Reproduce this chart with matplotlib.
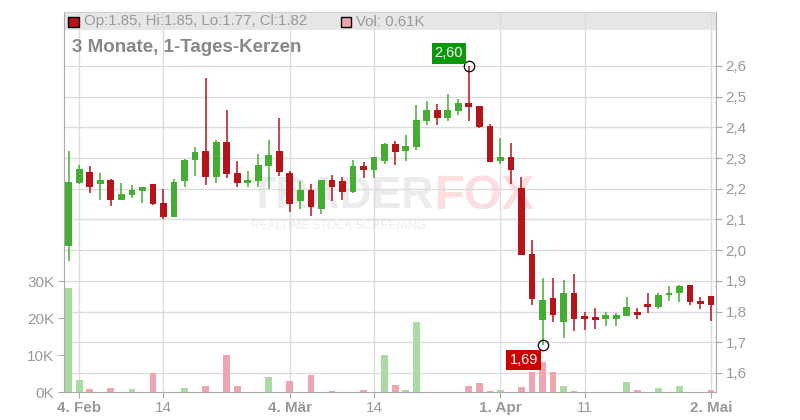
import matplotlib
matplotlib.use('Agg')
import matplotlib.pyplot as plt
from matplotlib.patches import Rectangle
import numpy as np
import pandas as pd

plt.rcParams['font.family'] = ['Liberation Sans', 'DejaVu Sans']

# trading days (Xetra, Feb 3 - May 2 2025)
dates = pd.bdate_range('2025-02-03', '2025-05-02').drop(
    pd.to_datetime(['2025-04-18', '2025-04-21', '2025-05-01']))

opens = [2.015, 2.219, 2.255, 2.217, 2.229, 2.162, 2.181, 2.194, 2.216, 2.154,
         2.109, 2.224, 2.293, 2.324, 2.239, 2.352, 2.251, 2.220, 2.226, 2.275,
         2.324, 2.251, 2.161, 2.196, 2.135, 2.228, 2.225, 2.190, 2.274, 2.262,
         2.291, 2.346, 2.324, 2.337, 2.421, 2.457, 2.432, 2.454, 2.479, 2.470,
         2.404, 2.291, 2.303, 2.202, 1.988, 1.773, 1.845, 1.766, 1.861, 1.785,
         1.782, 1.775, 1.775, 1.785, 1.798, 1.824, 1.814, 1.853, 1.859, 1.885,
         1.833, 1.850]
highs = [2.323, 2.278, 2.275, 2.252, 2.232, 2.219, 2.213, 2.206, 2.216, 2.200,
         2.232, 2.297, 2.337, 2.561, 2.359, 2.457, 2.290, 2.258, 2.313, 2.359,
         2.430, 2.258, 2.226, 2.215, 2.228, 2.245, 2.238, 2.293, 2.287, 2.303,
         2.349, 2.355, 2.375, 2.473, 2.486, 2.476, 2.509, 2.492, 2.600, 2.470,
         2.411, 2.365, 2.349, 2.238, 2.034, 1.910, 1.910, 1.903, 1.923, 1.800,
         1.811, 1.798, 1.795, 1.849, 1.811, 1.859, 1.862, 1.882, 1.888, 1.888,
         1.849, 1.850]
lows = [1.966, 2.215, 2.185, 2.162, 2.145, 2.162, 2.171, 2.155, 2.148, 2.103,
        2.107, 2.207, 2.242, 2.213, 2.220, 2.236, 2.207, 2.207, 2.207, 2.200,
        2.242, 2.125, 2.135, 2.112, 2.118, 2.161, 2.164, 2.187, 2.236, 2.236,
        2.282, 2.278, 2.291, 2.327, 2.408, 2.408, 2.421, 2.441, 2.422, 2.399,
        2.288, 2.282, 2.216, 1.985, 1.822, 1.690, 1.766, 1.714, 1.737, 1.741,
        1.744, 1.754, 1.754, 1.785, 1.775, 1.795, 1.808, 1.833, 1.830, 1.820,
        1.808, 1.770]
closes = [2.222, 2.265, 2.207, 2.229, 2.162, 2.183, 2.197, 2.206, 2.152, 2.109,
          2.223, 2.295, 2.321, 2.239, 2.352, 2.249, 2.220, 2.228, 2.277, 2.310,
          2.255, 2.151, 2.196, 2.141, 2.228, 2.205, 2.190, 2.274, 2.262, 2.303,
          2.346, 2.321, 2.339, 2.424, 2.457, 2.432, 2.457, 2.479, 2.467, 2.402,
          2.288, 2.303, 2.262, 1.985, 1.840, 1.838, 1.789, 1.861, 1.776, 1.775,
          1.772, 1.788, 1.788, 1.814, 1.788, 1.814, 1.853, 1.862, 1.882, 1.830,
          1.824, 1.820]
# volume in thousand shares
volumes = [28.2, 3.3, 0.9, 0, 1.2, 0, 0.9, 0, 5.2, 0,
           0, 1.2, 0, 1.7, 0, 10.1, 1.7, 0, 0, 4.1,
           0, 3.1, 0, 4.7, 0, 0.4, 0, 0, 0.6, 0,
           10.1, 2.0, 0.6, 19.1, 0, 0, 0, 0, 1.7, 2.5,
           0.4, 0.6, 0, 1.4, 5.5, 8.2, 5.5, 1.7, 0.4, 0,
           0, 0, 0, 2.8, 0.6, 0, 1.2, 0, 1.7, 0,
           0, 0.61]

tick_dates = ['2025-02-04', '2025-02-14', '2025-03-04', '2025-03-14',
              '2025-04-01', '2025-04-11', '2025-05-02']
tick_labels = ['4. Feb', '14', '4. Mär', '14', '1. Apr', '11', '2. Mai']
price_ticks = [1.6, 1.7, 1.8, 1.9, 2.0, 2.1, 2.2, 2.3, 2.4, 2.5, 2.6]
vol_ticks = [0, 10, 20, 30]

RED = '#b5141a'
GREEN = '#46ad34'
GREY = '#999999'

x = np.arange(len(dates))
o = np.array(opens)
c = np.array(closes)
up = c >= o

fig = plt.figure(figsize=(8, 4.2), dpi=100)
ax = fig.add_axes([0.08, 0.066, 0.815, 0.9055])   # volume, left scale
axp = ax.twinx()                                   # price, right scale
ax.set_zorder(2)
axp.set_zorder(1)
ax.patch.set_visible(False)

# price candles
axp.set_axisbelow(True)
axp.grid(axis='y', color='#dcdcdc', lw=1)
for t in tick_dates:
    axp.axvline(dates.get_loc(pd.Timestamp(t)), color='#dcdcdc', lw=1, zorder=0.5)
axp.add_patch(Rectangle((0, 0.9527), 1, 0.0473, transform=axp.transAxes,
                        fc='#e6e6e6', ec='none', zorder=0.3))

colors = np.where(up, GREEN, RED)
axp.vlines(x, lows, highs, colors=colors, lw=1.1, zorder=3)
axp.bar(x, np.abs(c - o), bottom=np.minimum(o, c), width=0.64, color=colors, zorder=3)

# watermark
axp.text(0.283, 0.515, 'TRADER', transform=axp.transAxes, fontsize=32, fontweight='bold',
         color='#ececec', va='center', ha='left', zorder=0.2)
axp.text(0.568, 0.515, 'FOX', transform=axp.transAxes, fontsize=35, fontweight='bold',
         color='#fcdde0', va='center', ha='left', zorder=0.2)
axp.text(0.287, 0.437, 'REALTIME STOCK SCREENING', transform=axp.transAxes, fontsize=8.5,
         color='#ececec', va='center', ha='left', zorder=0.2)

axp.set_ylim(1.537, 2.776)
axp.set_yticks(price_ticks)
axp.set_yticklabels([f'{p:.1f}'.replace('.', ',') for p in price_ticks])
axp.tick_params(axis='y', colors='#aaaaaa', labelcolor=GREY, labelsize=11, length=4, pad=3)
for s in axp.spines.values():
    s.set_visible(False)

# high / low markers
hi = int(np.argmax(highs))
lo = int(np.argmin(lows))
axp.plot([hi, lo], [highs[hi], lows[lo]], 'o', mfc='none', mec='black', ms=7.5, mew=0.9, zorder=4)
ax.annotate(f'{highs[hi]:.2f}'.replace('.', ','), xy=(hi, highs[hi]), xycoords=axp.transData,
            xytext=(-14.3, 9), textcoords='offset points', ha='center', va='center',
            color='white', fontsize=10.5,
            bbox=dict(boxstyle='square,pad=0.22', fc='#0a990a', ec='none'))
ax.annotate(f'{lows[lo]:.2f}'.replace('.', ','), xy=(lo, lows[lo]), xycoords=axp.transData,
            xytext=(-13.5, -10.5), textcoords='offset points', ha='center', va='center',
            color='white', fontsize=10.5,
            bbox=dict(boxstyle='square,pad=0.22', fc='#cc0000', ec='none'))

# volume bars
prev = np.concatenate([[c[0] - 1], c[:-1]])
vcolors = np.where(c >= prev, '#aadba4', '#eea6ae')
ax.bar(x, volumes, width=0.64, color=vcolors, zorder=2)
ax.set_ylim(0, 102.8)
ax.set_yticks(vol_ticks)
ax.set_yticklabels([f'{v}K' for v in vol_ticks])
ax.tick_params(axis='y', colors='#aaaaaa', labelcolor=GREY, labelsize=11, length=4, pad=3)

ax.set_xlim(-0.45, len(x) - 1 + 0.475)
ax.set_xticks([dates.get_loc(pd.Timestamp(t)) for t in tick_dates])
ax.set_xticklabels(tick_labels)
ax.tick_params(axis='x', colors='#aaaaaa', labelcolor=GREY, labelsize=11, length=4, pad=2)
for lab in ax.get_xticklabels():
    if lab.get_text()[0].isdigit() and '.' in lab.get_text():
        lab.set_fontweight('bold')

for side in ['left', 'bottom', 'right']:
    ax.spines[side].set_color('#aaaaaa')
ax.spines['top'].set_color('#d0d0d0')

# header
fig.patches.append(Rectangle((68.3 / 800, 1 - 26.7 / 420), 10.5 / 800, 10 / 420,
                             transform=fig.transFigure, fc=RED, ec='black', lw=1))
fig.patches.append(Rectangle((340.5 / 800, 1 - 26.7 / 420), 10.5 / 800, 10 / 420,
                             transform=fig.transFigure, fc='#eea6ae', ec='black', lw=1))
fig.text(84 / 800, 1 - 21.5 / 420, 'Op:1.85, Hi:1.85, Lo:1.77, Cl:1.82',
         color=GREY, fontsize=10.8, va='center')
fig.text(356 / 800, 1 - 21.5 / 420, 'Vol: 0.61K', color=GREY, fontsize=10.8, va='center')
fig.text(72 / 800, 1 - 47 / 420, '3 Monate, 1-Tages-Kerzen', color='#888888',
         fontsize=13.5, fontweight='bold', va='center')

fig.savefig('out.png', dpi=100)
